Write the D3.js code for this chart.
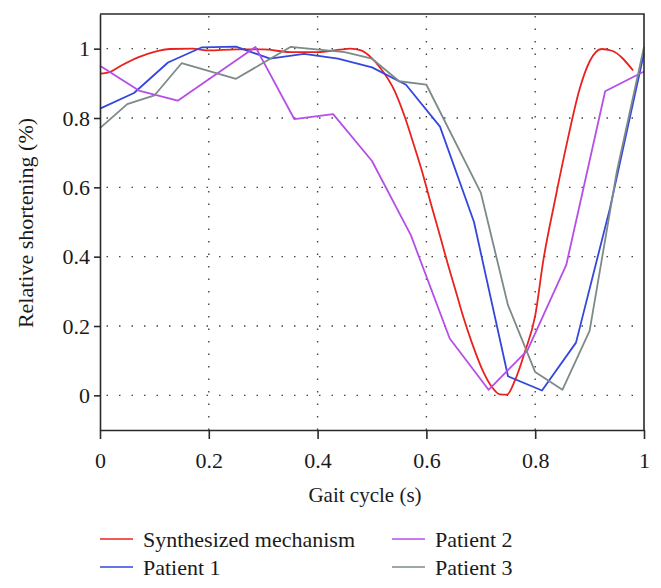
<!DOCTYPE html>
<html><head><meta charset="utf-8">
<script src="https://cdn.jsdelivr.net/npm/d3@7"></script>
<style>
body{margin:0;background:#fff;}
svg text{font-family:'Liberation Serif','DejaVu Serif','Noto Serif',serif !important;fill:#1a1a1a;}
</style></head>
<body><svg id="chart" width="661" height="588"></svg>
<script>
// ---- data ----
const seriesNames = ["Synthesized mechanism","Patient 1","Patient 2","Patient 3"];
const seriesColors = ["#e8231f","#3347dd","#b64ee8","#7d8a8a"];

const synthX = [0,0.02,0.04,0.07,0.10,0.13,0.17,0.20,0.25,0.30,0.35,0.40,0.44,0.46,0.48,0.50,0.515,0.542,0.561,0.576,0.594,0.607,0.625,0.64,0.655,0.668,0.684,0.704,0.72,0.735,0.748,0.762,0.781,0.80,0.815,0.836,0.861,0.881,0.90,0.922,0.941,0.98];
const synthY = [0.928,0.934,0.952,0.975,0.991,0.999,1.0,0.995,0.998,0.998,0.99,0.99,0.997,1.0,0.995,0.972,0.945,0.877,0.80,0.727,0.635,0.56,0.46,0.375,0.295,0.225,0.15,0.07,0.025,0.003,0.002,0.04,0.125,0.23,0.39,0.56,0.747,0.88,0.963,0.999,0.994,0.937];

const p1X = [0,0.0625,0.125,0.1875,0.25,0.3125,0.375,0.4375,0.5,0.5625,0.625,0.6875,0.75,0.8125,0.875,0.9375,1.0];
const p1Y = [0.827,0.872,0.96,1.004,1.006,0.971,0.985,0.971,0.946,0.896,0.775,0.50,0.055,0.014,0.152,0.54,0.987];

const p2X = [0,0.0714,0.1429,0.2857,0.3571,0.4286,0.5,0.5714,0.6429,0.7143,0.7857,0.8571,0.9286,1.0];
const p2Y = [0.951,0.879,0.85,1.005,0.797,0.811,0.676,0.462,0.164,0.016,0.13,0.376,0.877,0.934];

const p3X = [0,0.05,0.10,0.15,0.25,0.35,0.45,0.50,0.55,0.60,0.70,0.75,0.80,0.85,0.90,0.95,1.0];
const p3Y = [0.771,0.84,0.865,0.958,0.913,1.005,0.99,0.971,0.906,0.896,0.585,0.26,0.067,0.016,0.186,0.645,1.005];

const xTicks = [0,0.2,0.4,0.6,0.8,1];
const yTicks = [0,0.2,0.4,0.6,0.8,1];
const xTickLabels = ["0","0.2","0.4","0.6","0.8","1"];
const yTickLabels = ["0","0.2","0.4","0.6","0.8","1"];
const xTitle = "Gait cycle (s)";
const yTitle = "Relative shortening (%)";

// ---- layout ----
const FONT="'Liberation Serif','DejaVu Serif','Noto Serif',serif";
const L=100,R=644,T=14,B=430;
const svg=d3.select("#chart");
const x=d3.scaleLinear().domain([0,1]).range([L,R]);
const y=d3.scaleLinear().domain([-0.1,1.1]).range([B,T]);

// grid
const grid=svg.append("g").attr("stroke","#444").attr("stroke-width",1.4).attr("stroke-dasharray","1.5,11");
grid.selectAll("line.h").data(yTicks).join("line").attr("class","h")
  .attr("x1",L+6.5).attr("x2",R).attr("y1",d=>y(d)).attr("y2",d=>y(d));
grid.selectAll("line.v").data(xTicks.filter(d=>d>0&&d<1)).join("line").attr("class","v")
  .attr("y1",T+2).attr("y2",B).attr("x1",d=>x(d)).attr("x2",d=>x(d));

// series
const series=[[synthX,synthY],[p1X,p1Y],[p2X,p2Y],[p3X,p3Y]];
const line=d3.line().x(d=>x(d[0])).y(d=>y(d[1]));
series.forEach((s,i)=>{
  const pts=s[0].map((v,j)=>[v,s[1][j]]);
  svg.append("path").datum(pts)
    .attr("fill","none").attr("stroke",seriesColors[i]).attr("stroke-width",1.8)
    .attr("stroke-linejoin","round")
    .attr("d",i===0?line.curve(d3.curveMonotoneX)(pts):line.curve(d3.curveLinear)(pts));
});

// axes
const xAxis=d3.axisBottom(x).tickValues(xTicks).tickFormat((d,i)=>xTickLabels[i]).tickSize(9).tickPadding(13).tickSizeOuter(0);
const yAxis=d3.axisLeft(y).tickValues(yTicks).tickFormat((d,i)=>yTickLabels[i]).tickSize(6).tickPadding(4).tickSizeOuter(0);
const gx=svg.append("g").attr("transform",`translate(0,${B})`).call(xAxis);
const gy=svg.append("g").attr("transform",`translate(${L},0)`).call(yAxis);
[gx,gy].forEach(g=>{
  g.attr("font-family",FONT).attr("font-size",22);
  g.selectAll("path").attr("stroke","#2a2a2a").attr("stroke-width",1.6);
  g.selectAll("line").attr("stroke","#2a2a2a").attr("stroke-width",1.6);
  g.selectAll("text").attr("font-size",22).attr("font-family",FONT).attr("fill","#1a1a1a");
});
// frame top/right
svg.append("path").attr("d",`M${L},${T}H${R}V${B}`).attr("fill","none").attr("stroke","#2a2a2a").attr("stroke-width",1.6);

// titles
svg.append("text").attr("x",365).attr("y",502).attr("text-anchor","middle").attr("font-family",FONT).attr("font-size",21).text(xTitle);
svg.append("text").attr("transform","translate(33,223) rotate(-90)").attr("text-anchor","middle").attr("font-family",FONT).attr("font-size",22).text(yTitle);

// legend
const legPos=[[100,539],[392,539],[100,567],[392,567]];
const legOrder=[0,2,1,3];
legOrder.forEach((si,k)=>{
  const [lx,ly]=legPos[k];
  svg.append("line").attr("x1",lx).attr("x2",lx+33).attr("y1",ly).attr("y2",ly)
    .attr("stroke",seriesColors[si]).attr("stroke-width",1.6);
  svg.append("text").attr("x",lx+43).attr("y",ly+8).attr("font-family",FONT).attr("font-size",22).text(seriesNames[si]);
});
</script></body></html>
